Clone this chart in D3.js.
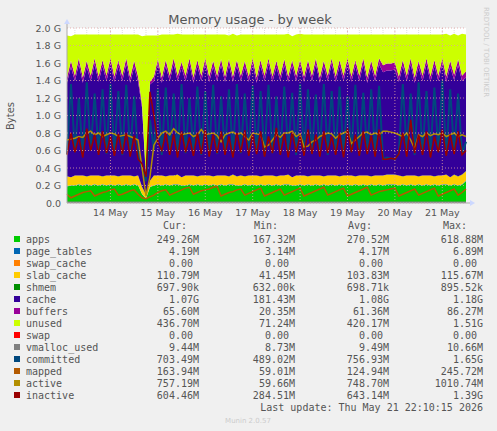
<!DOCTYPE html>
<html><head><meta charset="utf-8">
<script src="https://cdn.jsdelivr.net/npm/d3@7"></script>
<style>body{margin:0;background:#F0F0F0}svg{display:block}text{white-space:pre}</style>
</head><body><svg id="c" width="497" height="431"></svg>
<script>
// time: start 13 May 02:00, one sample every 2 hours
const startTime = "2026-05-13T02:00:00";
const stepHours = 2;
const yTicks = [0,0.2,0.4,0.6,0.8,1.0,1.2,1.4,1.6,1.8,2.0];
const yTickLabels = ["0.0","0.2 G","0.4 G","0.6 G","0.8 G","1.0 G","1.2 G","1.4 G","1.6 G","1.8 G","2.0 G"];
const dayTicks = ["2026-05-14","2026-05-15","2026-05-16","2026-05-17","2026-05-18","2026-05-19","2026-05-20","2026-05-21"];
const dayLabels = ["14 May","15 May","16 May","17 May","18 May","19 May","20 May","21 May"];

// values in G
const apps = [
0.19,0.20,0.20,0.21,0.20,0.21,0.20,0.21,0.20,0.21,0.20,0.21,
0.20,0.21,0.20,0.21,0.20,0.21,0.20,0.10,0.05,0.18,0.20,0.21,
0.20,0.21,0.20,0.21,0.21,0.20,0.20,0.21,0.20,0.21,0.20,0.21,
0.20,0.21,0.20,0.21,0.20,0.21,0.21,0.20,0.20,0.21,0.20,0.21,
0.20,0.21,0.20,0.21,0.20,0.21,0.20,0.21,0.21,0.20,0.20,0.21,
0.20,0.21,0.20,0.21,0.20,0.21,0.20,0.21,0.20,0.21,0.20,0.21,
0.20,0.21,0.20,0.21,0.20,0.21,0.20,0.21,0.20,0.21,0.21,0.21,
0.20,0.21,0.20,0.21,0.20,0.21,0.20,0.21,0.20,0.21,0.20,0.21,
0.21,0.20,0.21,0.20,0.21,0.25];
const slab_cache = [
0.11,0.09,0.11,0.10,0.11,0.09,0.11,0.10,0.11,0.09,0.11,0.10,
0.11,0.09,0.11,0.10,0.11,0.09,0.11,0.08,0.04,0.07,0.11,0.10,
0.11,0.09,0.11,0.10,0.11,0.09,0.11,0.10,0.11,0.09,0.11,0.10,
0.11,0.09,0.11,0.10,0.11,0.09,0.11,0.10,0.11,0.09,0.11,0.10,
0.11,0.09,0.11,0.10,0.11,0.09,0.11,0.10,0.11,0.09,0.11,0.10,
0.11,0.09,0.11,0.10,0.11,0.09,0.11,0.10,0.11,0.09,0.11,0.10,
0.11,0.09,0.11,0.10,0.11,0.09,0.11,0.10,0.11,0.11,0.11,0.11,
0.11,0.09,0.11,0.10,0.11,0.09,0.11,0.10,0.11,0.09,0.11,0.10,
0.11,0.09,0.11,0.10,0.11,0.11];
const cache = [
1.07,1.26,1.08,1.27,1.06,1.25,1.08,1.27,1.07,1.26,1.08,1.27,
1.07,1.26,1.08,1.27,1.06,1.25,1.07,0.90,0.18,1.10,1.08,1.27,
1.06,1.26,1.08,1.27,1.07,1.25,1.08,1.27,1.06,1.26,1.08,1.27,
1.07,1.25,1.08,1.26,1.07,1.27,1.06,1.26,1.08,1.25,1.07,1.27,
1.06,1.26,1.08,1.27,1.07,1.25,1.08,1.26,1.06,1.27,1.08,1.25,
1.07,1.26,1.08,1.27,1.06,1.25,1.08,1.27,1.07,1.26,1.08,1.27,
1.07,1.26,1.08,1.27,1.06,1.25,1.08,1.27,1.18,1.19,1.19,1.20,
1.07,1.26,1.08,1.27,1.06,1.25,1.08,1.27,1.07,1.26,1.08,1.27,
1.06,1.26,1.08,1.27,1.07,1.07];
const buffers = [
0.06,0.07,0.06,0.07,0.06,0.07,0.06,0.07,0.06,0.07,0.06,0.07,
0.06,0.07,0.06,0.07,0.06,0.07,0.06,0.04,0.02,0.03,0.05,0.06,
0.06,0.07,0.06,0.07,0.06,0.07,0.06,0.07,0.06,0.07,0.06,0.07,
0.06,0.07,0.06,0.07,0.06,0.07,0.06,0.07,0.06,0.07,0.06,0.07,
0.06,0.07,0.06,0.07,0.06,0.07,0.06,0.07,0.06,0.07,0.06,0.07,
0.06,0.07,0.06,0.07,0.06,0.07,0.06,0.07,0.06,0.07,0.06,0.07,
0.06,0.07,0.06,0.07,0.06,0.07,0.06,0.07,0.08,0.08,0.08,0.08,
0.06,0.07,0.06,0.07,0.06,0.07,0.06,0.07,0.06,0.07,0.06,0.07,
0.06,0.07,0.06,0.07,0.06,0.07];
const unused = [
0.48,0.28,0.47,0.27,0.49,0.30,0.47,0.27,0.48,0.29,0.47,0.27,
0.48,0.29,0.47,0.27,0.49,0.30,0.48,0.78,1.62,0.53,0.47,0.27,
0.49,0.29,0.47,0.27,0.48,0.31,0.47,0.27,0.49,0.29,0.47,0.27,
0.48,0.30,0.47,0.28,0.48,0.27,0.49,0.28,0.47,0.30,0.48,0.27,
0.49,0.29,0.47,0.27,0.48,0.30,0.47,0.28,0.49,0.27,0.47,0.30,
0.48,0.29,0.47,0.27,0.49,0.30,0.47,0.27,0.48,0.29,0.47,0.27,
0.48,0.29,0.47,0.27,0.49,0.30,0.47,0.27,0.35,0.33,0.33,0.32,
0.48,0.29,0.47,0.27,0.49,0.30,0.47,0.27,0.48,0.29,0.47,0.27,
0.49,0.29,0.47,0.27,0.48,0.42];
const page_tables = Array(102).fill(0.004);
const swap_cache = Array(102).fill(0);
const shmem = Array(102).fill(0.0007);
const swap = Array(102).fill(0);
const vmalloc_used = Array(102).fill(0.009);
const committed = [
0.56,1.36,0.58,1.20,0.55,1.38,0.60,1.25,0.57,1.30,0.56,1.36,
0.58,1.28,0.55,1.35,0.57,1.22,0.56,0.40,0.25,0.95,0.60,1.30,
0.55,1.32,0.58,1.25,0.56,1.36,0.57,1.20,0.60,1.33,0.55,1.28,
0.57,1.35,0.56,1.22,0.58,1.30,0.55,1.36,0.57,1.25,0.56,1.34,
0.58,1.28,0.55,1.35,0.57,1.22,0.56,1.33,0.58,1.26,0.55,1.36,
0.57,1.30,0.56,1.24,0.58,1.36,0.55,1.28,0.57,1.33,0.56,1.22,
0.58,1.35,0.55,1.26,0.57,1.30,0.56,1.34,0.50,0.52,0.51,0.50,
0.56,1.36,0.58,1.25,0.55,1.38,0.57,1.28,0.56,1.32,0.58,1.40,
0.55,1.30,0.57,1.25,0.56,0.70];
const inactive = [
0.55,0.80,0.58,0.75,0.52,0.85,0.60,0.78,0.55,0.82,0.57,0.76,
0.54,0.79,0.56,0.80,0.53,0.77,0.50,0.45,0.30,1.27,1.00,0.70,
0.60,0.80,0.55,0.78,0.52,0.82,0.58,0.75,0.54,0.80,0.56,0.84,
0.53,0.78,0.57,0.82,0.55,0.76,0.52,0.80,0.58,0.83,0.54,0.78,
0.56,0.82,0.53,0.76,0.57,0.86,0.55,0.79,0.52,0.81,0.58,0.77,
0.54,0.84,0.56,0.78,0.53,0.82,0.57,0.76,0.55,0.80,0.52,0.85,
0.58,0.78,0.54,0.82,0.56,0.77,0.53,0.84,0.50,0.50,0.51,0.50,
0.56,0.80,0.53,0.95,0.57,0.78,0.55,0.82,0.52,0.76,0.58,0.84,
0.54,0.78,0.56,0.82,0.55,0.60];
const active = [
0.72,0.73,0.74,0.76,0.75,0.80,0.82,0.78,0.80,0.76,0.78,0.80,
0.79,0.76,0.77,0.78,0.76,0.74,0.72,0.40,0.08,0.30,0.66,0.74,
0.80,0.82,0.78,0.85,0.80,0.78,0.79,0.80,0.76,0.78,0.84,0.78,
0.79,0.80,0.77,0.70,0.78,0.80,0.81,0.78,0.80,0.76,0.72,0.80,
0.79,0.78,0.64,0.66,0.72,0.78,0.75,0.80,0.80,0.82,0.76,0.79,
0.64,0.65,0.70,0.72,0.76,0.78,0.80,0.79,0.74,0.78,0.80,0.82,
0.68,0.72,0.76,0.80,0.81,0.78,0.80,0.78,0.82,0.82,0.81,0.80,
0.78,0.76,0.80,0.72,0.62,0.78,0.76,0.80,0.77,0.79,0.78,0.80,
0.76,0.78,0.80,0.76,0.78,0.76];
const mapped = [
0.10,0.06,0.08,0.10,0.12,0.13,0.14,0.08,0.10,0.12,0.13,0.15,
0.16,0.09,0.10,0.12,0.14,0.15,0.10,0.06,0.05,0.07,0.09,0.12,
0.14,0.15,0.09,0.11,0.13,0.15,0.17,0.18,0.10,0.12,0.14,0.15,
0.16,0.18,0.19,0.08,0.10,0.12,0.13,0.15,0.16,0.09,0.11,0.13,
0.15,0.17,0.08,0.10,0.12,0.14,0.16,0.09,0.11,0.13,0.15,0.17,
0.08,0.10,0.12,0.14,0.16,0.18,0.09,0.11,0.13,0.15,0.17,0.08,
0.10,0.12,0.14,0.16,0.18,0.09,0.11,0.13,0.14,0.15,0.16,0.17,
0.08,0.10,0.12,0.14,0.16,0.09,0.11,0.13,0.15,0.17,0.08,0.10,
0.12,0.14,0.16,0.09,0.12,0.16];

const names = ["apps","page_tables","swap_cache","slab_cache","shmem","cache","buffers","unused","swap","vmalloc_used","committed","mapped","active","inactive"];
const colors = ["#00CC00","#0066B3","#FF8000","#FFCC00","#008F00","#330099","#990099","#CCFF00","#FF0000","#808080","#00487D","#B35A00","#B38F00","#990000"];
const curVals = ["249.26M","4.19M","0.00 ","110.79M","697.90k","1.07G","65.60M","436.70M","0.00 ","9.44M","703.49M","163.94M","757.19M","604.46M"];
const minVals = ["167.32M","3.14M","0.00 ","41.45M","632.00k","181.43M","20.35M","71.24M","0.00 ","8.73M","489.02M","59.01M","59.66M","284.51M"];
const avgVals = ["270.52M","4.17M","0.00 ","103.83M","698.71k","1.08G","61.36M","420.17M","0.00 ","9.49M","756.93M","124.94M","748.70M","643.14M"];
const maxVals = ["618.88M","6.89M","0.00 ","115.67M","895.52k","1.18G","86.27M","1.51G","0.00 ","10.66M","1.65G","245.72M","1010.74M","1.39G"];

const series = {apps,page_tables,swap_cache,slab_cache,shmem,cache,buffers,unused,swap,vmalloc_used,committed,mapped,active,inactive};
const stackNames = ["apps","page_tables","swap_cache","slab_cache","shmem","cache","buffers","unused","swap"];
const lineNames = ["vmalloc_used","committed","mapped","active","inactive"];

const svg = d3.select("#c");
const L=67,R=466,T=28,B=203;
const t0 = new Date(startTime);
const times = apps.map((_,i)=>new Date(t0.getTime()+i*stepHours*3600e3));
const x = d3.scaleTime().domain([t0, new Date(t0.getTime()+101*stepHours*3600e3)]).range([L,R]);
const y = d3.scaleLinear().domain([0,2]).range([B,T]);

svg.append("rect").attr("x",L).attr("y",T).attr("width",R-L).attr("height",B-T).attr("fill","#fff");
const g = svg.append("g");
for(let v=0.1; v<2.0; v+=0.2) g.append("line").attr("x1",L).attr("x2",R).attr("y1",y(v)).attr("y2",y(v)).attr("stroke","#ddd").attr("stroke-dasharray","1,1");
const six = d3.timeHour.every(6).range(t0, x.domain()[1]);
six.forEach(t=>g.append("line").attr("x1",x(t)).attr("x2",x(t)).attr("y1",T).attr("y2",B).attr("stroke","#ddd").attr("stroke-dasharray","1,1"));

const data = times.map((t,i)=>{const o={t}; names.forEach(n=>o[n]=series[n][i]); return o;});
const stack = d3.stack().keys(stackNames)(data);
const area = d3.area().x(d=>x(d.data.t)).y0(d=>y(d[0])).y1(d=>y(d[1]));
stack.forEach(s=>svg.append("path").attr("d",area(s)).attr("fill",colors[names.indexOf(s.key)]));
lineNames.forEach(n=>{
  const ln = d3.line().x((d,i)=>x(times[i])).y(d=>y(d));
  svg.append("path").attr("d",ln(series[n])).attr("fill","none").attr("stroke",colors[names.indexOf(n)]).attr("stroke-width",n==="committed"?2:1.5);
});

yTicks.forEach(v=>svg.append("line").attr("x1",L).attr("x2",R).attr("y1",y(v)).attr("y2",y(v)).attr("stroke","#E0A0A0").attr("stroke-opacity",0.8).attr("stroke-dasharray","1,2"));
dayTicks.forEach(d=>{const t=new Date(d+"T00:00:00"); svg.append("line").attr("x1",x(t)).attr("x2",x(t)).attr("y1",T).attr("y2",B).attr("stroke","#E0A0A0").attr("stroke-opacity",0.8).attr("stroke-dasharray","1,2");});

svg.append("line").attr("x1",L).attr("x2",R+6).attr("y1",B).attr("y2",B).attr("stroke","#aaa");
svg.append("line").attr("x1",L).attr("x2",L).attr("y1",B).attr("y2",T-6).attr("stroke","#aaa");
svg.append("path").attr("d",`M${R+4},${B-3}L${R+9},${B}L${R+4},${B+3}Z`).attr("fill","#ccd8ff");
svg.append("path").attr("d",`M${L-3},${T-4}L${L},${T-9}L${L+3},${T-4}Z`).attr("fill","#ccd8ff");

const f = "DejaVu Sans, sans-serif";
yTicks.forEach((v,i)=>svg.append("text").attr("x",61).attr("y",y(v)+3.5).attr("text-anchor","end").attr("font-family",f).attr("font-size",9.5).attr("fill","#555").text(yTickLabels[i]));
dayTicks.forEach((d,i)=>{const t=new Date(d+"T00:00:00"); svg.append("text").attr("x",x(t)).attr("y",216).attr("text-anchor","middle").attr("font-family",f).attr("font-size",9.5).attr("fill","#555").text(dayLabels[i]);});
svg.append("text").attr("x",250).attr("y",24).attr("text-anchor","middle").attr("font-family",f).attr("font-size",13).attr("fill","#555").text("Memory usage - by week");
svg.append("text").attr("transform","translate(14,116) rotate(-90)").attr("text-anchor","middle").attr("font-family",f).attr("font-size",10).attr("fill","#555").text("Bytes");
svg.append("text").attr("transform","translate(484,7) rotate(90)").attr("font-family",f).attr("font-size",7).attr("fill","#ccc").text("RRDTOOL / TOBI OETIKER");

const m = "DejaVu Sans Mono, monospace";
const hy = 229;
[["Cur:",187],["Min:",278],["Avg:",372],["Max:",467]].forEach(([s,xx])=>svg.append("text").attr("x",xx).attr("y",hy).attr("text-anchor","end").attr("font-family",m).attr("font-size",10).attr("fill","#555").text(s));
names.forEach((n,i)=>{
  const yy = 243 + i*12;
  svg.append("rect").attr("x",14).attr("y",yy-7).attr("width",6).attr("height",6).attr("fill",colors[i]);
  svg.append("text").attr("x",26).attr("y",yy).attr("font-family",m).attr("font-size",10).attr("fill","#555").text(n);
  [[curVals,199],[minVals,295],[avgVals,389],[maxVals,483]].forEach(([arr,xx])=>{
    svg.append("text").attr("x",xx).attr("y",yy).attr("text-anchor","end").attr("font-family",m).attr("font-size",10).attr("fill","#555").text(arr[i]);
  });
});
svg.append("text").attr("x",483).attr("y",411).attr("text-anchor","end").attr("font-family",m).attr("font-size",10).attr("fill","#555").text("Last update: Thu May 21 22:10:15 2026");
svg.append("text").attr("x",248).attr("y",423).attr("text-anchor","middle").attr("font-family",f).attr("font-size",7).attr("fill","#ccc").text("Munin 2.0.57");
</script></body></html>
